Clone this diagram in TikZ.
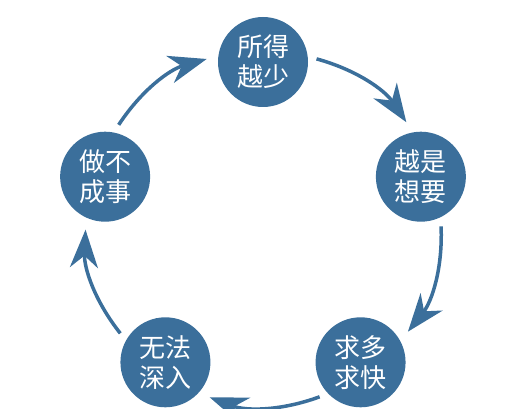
\documentclass[tikz,border=0pt]{standalone}
\usepackage{fontspec}
\newfontfamily\cjk{Noto Sans CJK SC}
\usepackage{xcolor}
\usepackage{tikz}
\usetikzlibrary{arrows.meta}
\definecolor{loopblue}{RGB}{59,111,155}
\tikzset{
  stage/.style={circle, fill=loopblue, text=white, minimum size=90pt, inner sep=0pt, align=center, font=\cjk\fontsize{26}{30}\selectfont},
  cyclearrow/.style={-{Stealth[length=38pt, width=28pt, inset=12pt]}, line width=3.5pt, draw=loopblue, shorten <=9pt, shorten >=12pt}
}

\begin{document}
\begin{tikzpicture}[x=1pt, y=1pt]
  \useasboundingbox (0,0) rectangle (512,408);
  \coordinate (hub) at (263,180);

  \node[stage] (less) at ([shift={(90:166)}]hub) {所得\\越少};
  \node[stage] (want) at ([shift={(18:166)}]hub) {越是\\想要};
  \node[stage] (rush) at ([shift={(-54:166)}]hub) {求多\\求快};
  \node[stage] (shallow) at ([shift={(-126:166)}]hub) {无法\\深入};
  \node[stage] (fail) at ([shift={(162:166)}]hub) {做不\\成事};

  % arcs follow the big circle round (hub)
  \draw[cyclearrow] (less.7.8) to[bend left=20.4] (want.100.2);
  \draw[cyclearrow] (want.-64.2) to[bend left=20.4] (rush.28.2);
  \draw[cyclearrow] (rush.-136.2) to[bend left=20.4] (shallow.-43.8);
  \draw[cyclearrow] (shallow.151.8) to[bend left=20.4] (fail.-115.8);
  \draw[cyclearrow] (fail.79.8) to[bend left=20.4] (less.172.2);
\end{tikzpicture}
\end{document}
